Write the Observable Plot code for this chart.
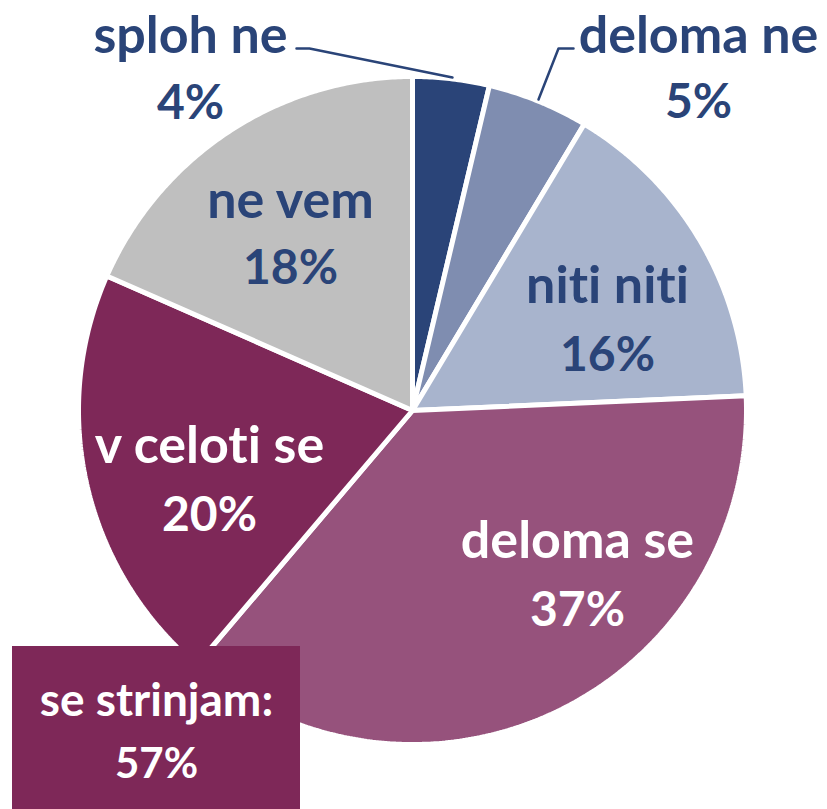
<!DOCTYPE html>
<html>
<head>
<meta charset="utf-8">
<script src="https://cdn.jsdelivr.net/npm/d3@7"></script>
<script src="https://cdn.jsdelivr.net/npm/@observablehq/plot@0.6"></script>
<style>
  html, body { margin: 0; padding: 0; background: #fff; }
  #chart svg { display: block; }
  #chart text { font-variant-ligatures: none; font-feature-settings: "liga" 0, "clig" 0; }
</style>
</head>
<body>
<div id="chart"></div>
<script>
// ---- data ----
const categories = ["sploh ne", "deloma ne", "niti niti", "deloma se", "v celoti se", "ne vem"];
const values = [3.7, 4.9, 15.7, 36.9, 20.4, 18.4];
const colors = ["#2A4478", "#7F8DB0", "#A8B4CD", "#96527C", "#7E2858", "#BFBFBF"];
const textColors = ["#2A4478", "#2A4478", "#2A4478", "#ffffff", "#ffffff", "#2A4478"];
const summaryLabel = "se strinjam:";
const summaryParts = ["deloma se", "v celoti se"];

// ---- layout (pixels) ----
const W = 827, H = 809;
const CX = 412, CY = 410, R = 334;
const toX = px => (px - CX) / R;
const toY = py => (CY - py) / R;
// [x centre, word baseline, percent baseline]
const labelPx = {
  "sploh ne": [190, 52, 118],
  "deloma ne": [698, 52, 117],
  "niti niti": [607, 302, 370],
  "deloma se": [577, 557, 625],
  "v celoti se": [209, 462, 530],
  "ne vem": [290, 217, 283]
};
const leaders = {
  "sploh ne": [[296, 48], [309, 48], [452, 77]],
  "deloma ne": [[573, 48], [558, 48], [538, 99]]
};
const box = {x1: 12, x2: 300, y1: 646, y2: 812};
const boxText = [156, 715, 777];

// ---- build slices with d3.pie ----
const pie = d3.pie().sort(null).value(d => d.value);
const arcs = pie(categories.map((c, i) => ({category: c, value: values[i]})));
const slicePts = [];
arcs.forEach(a => {
  const n = Math.max(2, Math.ceil((a.endAngle - a.startAngle) / (Math.PI / 360)));
  slicePts.push({category: a.data.category, x: 0, y: 0});
  for (let k = 0; k <= n; k++) {
    const t = a.startAngle + (a.endAngle - a.startAngle) * k / n;
    slicePts.push({category: a.data.category, x: Math.sin(t), y: Math.cos(t)});
  }
});

const labels = categories.map((c, i) => ({
  category: c,
  word: c,
  pct: `${Math.round(values[i])}%`,
  x: toX(labelPx[c][0]),
  yw: toY(labelPx[c][1]),
  yp: toY(labelPx[c][2]),
  color: textColors[i]
}));
const summaryValue = Math.round(d3.sum(summaryParts, p => values[categories.indexOf(p)]));

const leaderPts = [];
Object.entries(leaders).forEach(([c, pts]) => pts.forEach(p => leaderPts.push({category: c, x: toX(p[0]), y: toY(p[1])})));

const font = "Lato, 'Open Sans', sans-serif";

const chart = Plot.plot({
  width: W,
  height: H,
  margin: 0,
  x: {domain: [toX(0), toX(W)], axis: null},
  y: {domain: [toY(H), toY(0)], axis: null},
  color: {domain: categories, range: colors},
  style: {fontFamily: font, background: "#fff"},
  marks: [
    Plot.line(slicePts, {
      x: "x", y: "y", z: "category", fill: "category",
      stroke: "#ffffff", strokeWidth: 5, strokeLinejoin: "miter",
      curve: "linear-closed"
    }),
    Plot.line(leaderPts, {
      x: "x", y: "y", z: "category", stroke: "#2A4478", strokeWidth: 2.5
    }),
    Plot.rect([box], {
      x1: d => toX(d.x1), x2: d => toX(d.x2),
      y1: d => toY(d.y1), y2: d => toY(d.y2),
      fill: colors[4]
    }),
    Plot.text(labels, {
      x: "x", y: "yw", text: "word", fill: "color",
      fontSize: 52, fontWeight: "bold",
      textAnchor: "middle", lineAnchor: "bottom"
    }),
    Plot.text(labels, {
      x: "x", y: "yp", text: "pct", fill: "color",
      fontSize: 48, fontWeight: "bold",
      textAnchor: "middle", lineAnchor: "bottom"
    }),
    Plot.text([summaryLabel], {
      x: toX(boxText[0]), y: toY(boxText[1]), text: d => d,
      fill: "#ffffff", fontSize: 46, fontWeight: "bold",
      textAnchor: "middle", lineAnchor: "bottom"
    }),
    Plot.text([`${summaryValue}%`], {
      x: toX(boxText[0]), y: toY(boxText[2]), text: d => d,
      fill: "#ffffff", fontSize: 42, fontWeight: "bold",
      textAnchor: "middle", lineAnchor: "bottom"
    })
  ]
});
document.getElementById("chart").appendChild(chart);
</script>
</body>
</html>
